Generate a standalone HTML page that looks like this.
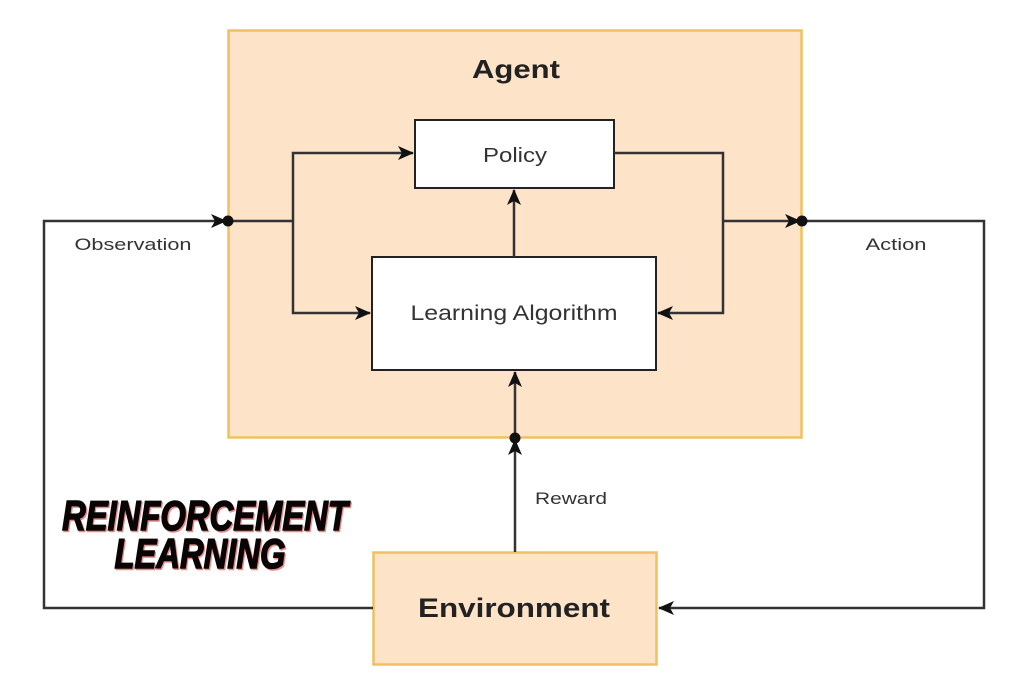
<!DOCTYPE html>
<html><head><meta charset="utf-8"><style>
html,body{margin:0;padding:0;background:#fff;width:1024px;height:683px;overflow:hidden}
svg{display:block}
.t{font-family:"Liberation Sans",Arial,sans-serif;fill:#333}
</style></head><body>
<svg width="1024" height="683" viewBox="0 0 1024 683" xmlns="http://www.w3.org/2000/svg">
<defs>
<marker id="a" viewBox="0 0 16 14" refX="15" refY="7" markerWidth="16" markerHeight="14" markerUnits="userSpaceOnUse" orient="auto">
<path d="M0,0 L16,7 L0,14 L4,7 Z" fill="#111"/></marker>
</defs>
<rect x="228.5" y="30.5" width="573" height="407" fill="#fde3c8" stroke="#f0c060" stroke-width="2.5"/>
<text x="516" y="78" class="t" font-size="26" font-weight="bold" text-anchor="middle" textLength="88" lengthAdjust="spacingAndGlyphs" style="fill:#222">Agent</text>
<rect x="415" y="120" width="199" height="68" fill="#fff" stroke="#222" stroke-width="2"/>
<text x="515" y="162" class="t" font-size="20" text-anchor="middle" textLength="64" lengthAdjust="spacingAndGlyphs">Policy</text>
<rect x="372" y="257" width="284" height="113" fill="#fff" stroke="#222" stroke-width="2"/>
<text x="514" y="320" class="t" font-size="21" text-anchor="middle" textLength="207" lengthAdjust="spacingAndGlyphs">Learning Algorithm</text>
<rect x="373.5" y="552.5" width="283" height="112" fill="#fde3c8" stroke="#f0c060" stroke-width="2.5"/>
<text x="514" y="617" class="t" font-size="27" font-weight="bold" text-anchor="middle" textLength="192" lengthAdjust="spacingAndGlyphs" style="fill:#222">Environment</text>
<g stroke="#333" stroke-width="2.5" fill="none">
<path d="M373,608 H44 V221 H226" marker-end="url(#a)"/>
<path d="M228,221 H293"/>
<path d="M293,221 V153 H413" marker-end="url(#a)"/>
<path d="M293,221 V313 H370" marker-end="url(#a)"/>
<path d="M514,257 V190" marker-end="url(#a)"/>
<path d="M614,153 H723 V313 H658" marker-end="url(#a)"/>
<path d="M723,221 H800" marker-end="url(#a)"/>
<path d="M802,221 H984 V608 H659" marker-end="url(#a)"/>
<path d="M515,552 V440" marker-end="url(#a)"/>
<path d="M515,438 V372" marker-end="url(#a)"/>
</g>
<circle cx="228" cy="221" r="5.5" fill="#111"/>
<circle cx="802" cy="221" r="5.5" fill="#111"/>
<circle cx="515" cy="438" r="5.5" fill="#111"/>
<text x="133" y="250" class="t" font-size="17" text-anchor="middle" textLength="117" lengthAdjust="spacingAndGlyphs">Observation</text>
<text x="896" y="250" class="t" font-size="17" text-anchor="middle" textLength="61" lengthAdjust="spacingAndGlyphs">Action</text>
<text x="571" y="504" class="t" font-size="17" text-anchor="middle" textLength="72" lengthAdjust="spacingAndGlyphs">Reward</text>
<g font-family="Liberation Sans,Arial,sans-serif" font-weight="bold" font-style="italic" font-size="42" text-anchor="middle" stroke-width="1.5">
<text transform="translate(205,530) scale(0.78,1)" fill="#e88" stroke="#e88" x="1.5" y="1.5">REINFORCEMENT</text>
<text transform="translate(205,530) scale(0.78,1)" fill="#0a0505" stroke="#0a0505">REINFORCEMENT</text>
<text transform="translate(200,568) scale(0.78,1)" fill="#e88" stroke="#e88" x="1.5" y="1.5">LEARNING</text>
<text transform="translate(200,568) scale(0.78,1)" fill="#0a0505" stroke="#0a0505">LEARNING</text>
</g>
</svg>
</body></html>
